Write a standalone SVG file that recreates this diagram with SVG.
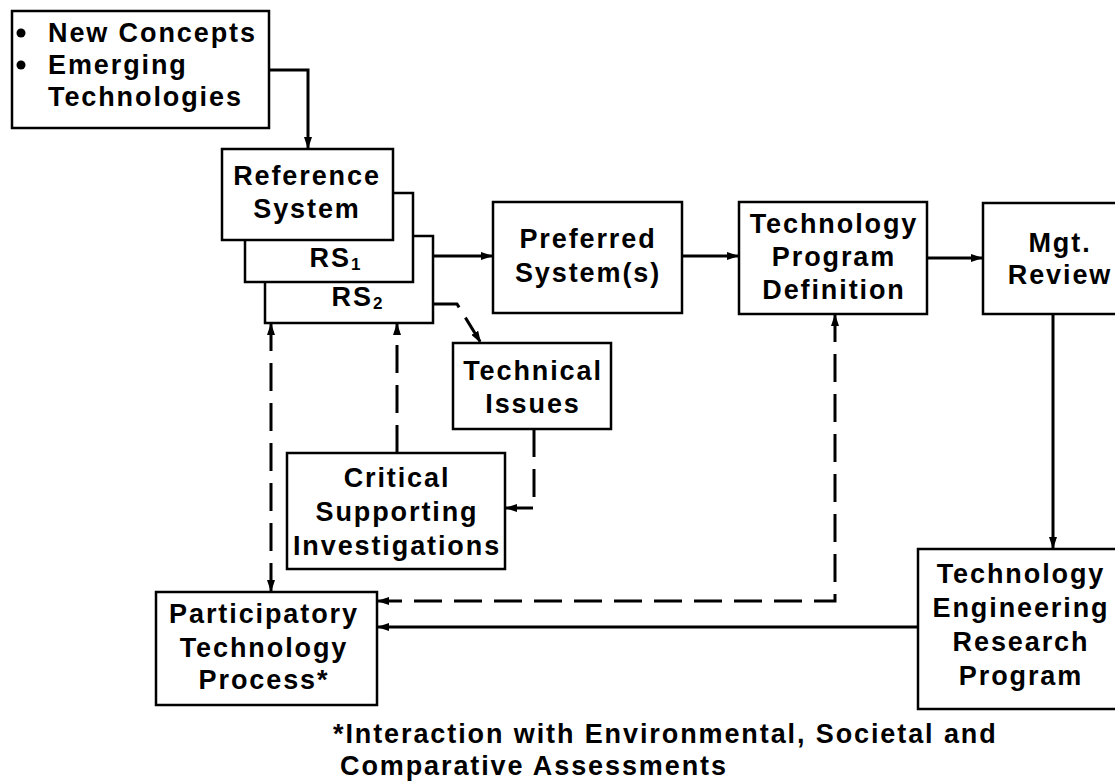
<svg xmlns="http://www.w3.org/2000/svg" width="1115" height="781" viewBox="0 0 1115 781">
<style>
  .box { fill: #ffffff; stroke: #000000; stroke-width: 2.5; }
  .t { font-family: "Liberation Sans", Arial, sans-serif; font-weight: bold; font-size: 27px; letter-spacing: 1.9px; fill: #000000; text-anchor: middle; }
  .ts { text-anchor: start; }
  .sub { font-size: 17px; letter-spacing: 0; }
  .line { fill: none; stroke: #000000; stroke-width: 3; }
  .dash { stroke-dasharray: 28 12; }
</style>
<defs>
  <marker id="ah" viewBox="0 0 12 8" refX="12" refY="4" markerWidth="12" markerHeight="8" markerUnits="userSpaceOnUse" orient="auto-start-reverse">
    <path d="M0,0 L12,4 L0,8 Z" fill="#000000"/>
  </marker>
</defs>
<rect width="1115" height="781" fill="#ffffff"/>

<g id="concepts">
  <rect class="box" x="12" y="11" width="257" height="117"/>
  <circle cx="21" cy="33" r="4.5" fill="#000000"/>
  <circle cx="21" cy="65" r="4.5" fill="#000000"/>
  <text class="t ts" x="48" y="42">New Concepts</text>
  <text class="t ts" x="48" y="74">Emerging</text>
  <text class="t ts" x="48" y="106">Technologies</text>
</g>

<g id="reference-stack">
  <g id="rs2">
    <rect class="box" x="265" y="236" width="168" height="87"/>
    <text class="t" x="357" y="306">RS<tspan class="sub" dy="3">2</tspan></text>
  </g>
  <g id="rs1">
    <rect class="box" x="245" y="193" width="168" height="89"/>
    <text class="t" x="335" y="267">RS<tspan class="sub" dy="3">1</tspan></text>
  </g>
  <g id="reference">
    <rect class="box" x="222" y="149" width="171" height="91"/>
    <text class="t" x="307" y="185">Reference</text>
    <text class="t" x="307" y="218">System</text>
  </g>
</g>

<g id="preferred">
  <rect class="box" x="493" y="202" width="189" height="111"/>
  <text class="t" x="588" y="248">Preferred</text>
  <text class="t" x="588" y="282">System(s)</text>
</g>

<g id="tpd">
  <rect class="box" x="739" y="202" width="188" height="112"/>
  <text class="t" x="834" y="233">Technology</text>
  <text class="t" x="834" y="266">Program</text>
  <text class="t" x="834" y="299">Definition</text>
</g>

<g id="mgt">
  <rect class="box" x="983" y="203" width="140" height="111"/>
  <text class="t" x="1060" y="252">Mgt.</text>
  <text class="t" x="1060" y="284">Review</text>
</g>

<g id="technical">
  <rect class="box" x="453" y="343" width="158" height="86"/>
  <text class="t" x="533" y="380">Technical</text>
  <text class="t" x="533" y="413">Issues</text>
</g>

<g id="critical">
  <rect class="box" x="287" y="453" width="218" height="116"/>
  <text class="t" x="397" y="487">Critical</text>
  <text class="t" x="397" y="521">Supporting</text>
  <text class="t" x="397" y="555">Investigations</text>
</g>

<g id="participatory">
  <rect class="box" x="156" y="592" width="221" height="113"/>
  <text class="t" x="264" y="623">Participatory</text>
  <text class="t" x="264" y="657">Technology</text>
  <text class="t" x="264" y="689">Process*</text>
</g>

<g id="ter">
  <rect class="box" x="918" y="549" width="205" height="160"/>
  <text class="t" x="1021" y="583">Technology</text>
  <text class="t" x="1021" y="617">Engineering</text>
  <text class="t" x="1021" y="651">Research</text>
  <text class="t" x="1021" y="685">Program</text>
</g>

<g id="footnote">
  <text class="t ts" x="333" y="743">*Interaction with Environmental, Societal and</text>
  <text class="t ts" x="340" y="775">Comparative Assessments</text>
</g>

<g id="connectors">
  <path class="line" d="M269,70 H308 V149" marker-end="url(#ah)"/>
  <path class="line" d="M433,256 H493" marker-end="url(#ah)"/>
  <path class="line" d="M682,256 H739" marker-end="url(#ah)"/>
  <path class="line" d="M927,258 H983" marker-end="url(#ah)"/>
  <path class="line" d="M1053,314 V549" marker-end="url(#ah)"/>
  <path class="line" d="M918,627 H377" marker-end="url(#ah)"/>
  <path class="line dash" d="M835,314 V601 H377" marker-start="url(#ah)" marker-end="url(#ah)"/>
  <path class="line dash" d="M433,304 H457 L481,343" stroke-dasharray="22 8" marker-end="url(#ah)"/>
  <path class="line dash" d="M534,429 V508 H505" stroke-dasharray="20 9" marker-end="url(#ah)"/>
  <path class="line dash" d="M397,453 V323" marker-end="url(#ah)"/>
  <path class="line dash" d="M271,323 V592" marker-start="url(#ah)" marker-end="url(#ah)"/>
</g>
</svg>
